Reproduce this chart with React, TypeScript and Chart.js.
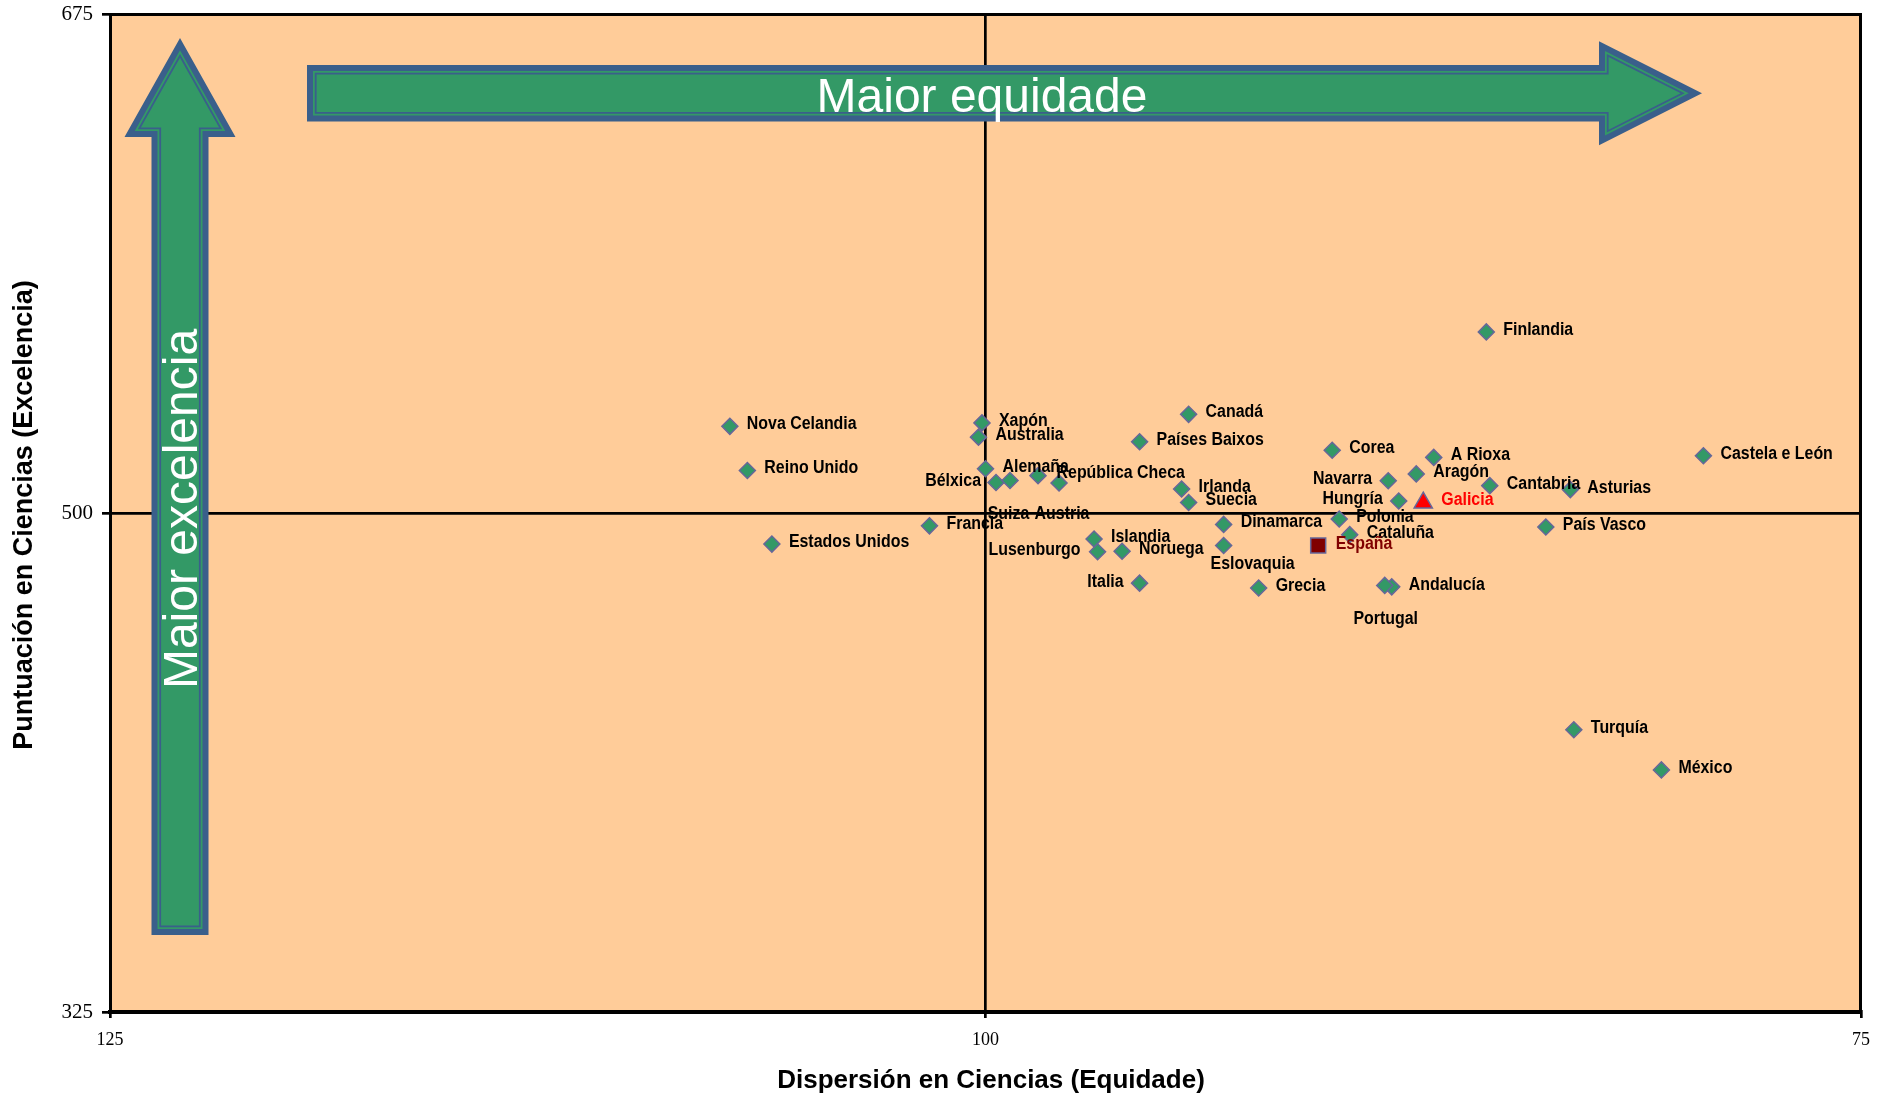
import React, { useEffect, useRef } from "react";
import { Chart, registerables } from "chart.js";

Chart.register(...registerables);

// ---------------- DATA ----------------
const countryNames = [
  "Nova Celandia", "Reino Unido", "Estados Unidos", "Francia", "Xapón", "Australia",
  "Alemaña", "Bélxica", "Suiza", "República Checa", "Austria", "Canadá",
  "Países Baixos", "Irlanda", "Suecia", "Islandia", "Lusenburgo", "Noruega",
  "Italia", "Dinamarca", "Eslovaquia", "Grecia", "Corea", "Polonia",
  "Hungría", "Portugal", "Finlandia", "Turquía", "México",
];
const countryDispersion = [
  107.3, 106.8, 106.1, 101.6, 100.1, 100.2,
  100.0, 99.7, 99.3, 98.5, 97.9, 94.2,
  95.6, 94.4, 94.2, 96.9, 96.8, 96.1,
  95.6, 93.2, 93.2, 92.2, 90.1, 89.9,
  88.2, 88.6, 85.7, 83.2, 80.7,
];
const countryScore = [
  530.4, 514.9, 489.1, 495.5, 531.6, 526.6,
  515.5, 510.7, 511.4, 513.1, 510.5, 534.6,
  525.0, 508.4, 503.7, 490.9, 486.4, 486.6,
  475.4, 496.0, 488.6, 473.7, 522.0, 497.9,
  504.2, 474.6, 563.5, 424.0, 409.9,
];

const regionNames = [
  "Cataluña", "Navarra", "Aragón", "A Rioxa", "Cantabria",
  "Asturias", "Castela e León", "País Vasco", "Andalucía",
];
const regionDispersion = [89.6, 88.5, 87.7, 87.2, 85.6, 83.3, 79.5, 84.0, 88.4];
const regionScore = [492.4, 511.3, 513.7, 519.5, 509.6, 508.2, 520.1, 495.1, 474.1];

const spainNames = ["España"];
const spainDispersion = [90.5];
const spainScore = [488.6];

const galiciaNames = ["Galicia"];
const galiciaDispersion = [87.5];
const galiciaScore = [503.6];

const xTickValues = [125, 100, 75];
const yTickValues = [325, 500, 675];
const xCross = 100;
const yCross = 500;

const xTitle = "Dispersión en Ciencias (Equidade)";
const yTitle = "Puntuación en Ciencias (Excelencia)";
const hArrowText = "Maior equidade";
const vArrowText = "Maior excelencia";

// ---------------- STYLE / LABEL PLACEMENT ----------------
const LABEL_FONT = 'bold 18px "Liberation Sans", Arial, sans-serif';
const LABEL_SCALE_X = 0.885;
type Placement = { dx: number; dy: number; align: CanvasTextAlign };
const defaultPlacement: Placement = { dx: 17, dy: -2, align: "left" };
const labelPlacement: Record<string, Partial<Placement>> = {
  "Bélxica": { dx: -15, dy: -1.5, align: "right" },
  "Suiza": { dx: -1.5, dy: 34, align: "center" },
  "Austria": { dx: 3, dy: 31, align: "center" },
  "República Checa": { dx: 18.5, dy: -2.7 },
  "Lusenburgo": { dx: -17, dy: -2, align: "right" },
  "Italia": { dx: -16, dy: -1, align: "right" },
  "Navarra": { dx: -16, dy: -1.5, align: "right" },
  "Hungría": { dx: -16, dy: -1.5, align: "right" },
  "Eslovaquia": { dx: 29, dy: 19, align: "center" },
  "Portugal": { dx: 1, dy: 33.5, align: "center" },
  "Galicia": { dx: 18, dy: -3 },
  "España": { dx: 17.5, dy: -1 },
};

const GREEN = "#339966";
const BLUE = "#3A5F8B";
const MARKER_BORDER = "#666699";
const PLOT_BG = "#FFCC99";

function toPoints(xs: number[], ys: number[]) {
  return xs.map((x, i) => ({ x, y: ys[i] }));
}

// arrow polygon, local coords: s along arrow (0 = tail), t across; d = inset
function arrowPath(
  ctx: CanvasRenderingContext2D,
  map: (s: number, t: number) => [number, number],
  L: number, Lb: number, w: number, h: number, d: number
) {
  const H = L - Lb;
  const len = Math.sqrt(H * H + h * h);
  const hi = h - (d * (h + len)) / H;
  const tip = L - (d * len) / h;
  const pts: [number, number][] = [
    [d, -(w - d)], [Lb + d, -(w - d)], [Lb + d, -hi], [tip, 0],
    [Lb + d, hi], [Lb + d, w - d], [d, w - d],
  ];
  ctx.beginPath();
  pts.forEach(([s, t], i) => {
    const [x, y] = map(s, t);
    if (i === 0) ctx.moveTo(x, y); else ctx.lineTo(x, y);
  });
  ctx.closePath();
}

function drawArrow(
  ctx: CanvasRenderingContext2D,
  map: (s: number, t: number) => [number, number],
  L: number, Lb: number, w: number, h: number
) {
  const layers: [number, string][] = [[0, BLUE], [6, GREEN], [7.8, BLUE], [9.6, GREEN]];
  layers.forEach(([d, c]) => {
    arrowPath(ctx, map, L, Lb, w, h, d);
    ctx.fillStyle = c;
    ctx.fill();
  });
}

const decorPlugin = {
  id: "decor",
  beforeDraw(chart: any) {
    const { ctx, chartArea: a } = chart;
    ctx.save();
    ctx.fillStyle = PLOT_BG;
    ctx.fillRect(a.left, a.top, a.right - a.left, a.bottom - a.top);
    ctx.restore();
  },
  beforeDatasetsDraw(chart: any) {
    const { ctx, chartArea: a } = chart;
    ctx.save();
    // top / right frame
    ctx.strokeStyle = "#000";
    ctx.lineWidth = 3;
    ctx.beginPath();
    ctx.moveTo(a.left, a.top + 0.5);
    ctx.lineTo(a.right - 0.5, a.top + 0.5);
    ctx.lineTo(a.right - 0.5, a.bottom);
    ctx.stroke();

    // vertical arrow (tail at bottom)
    const vcx = a.left + 70;
    const vTail = a.top + 921;
    drawArrow(ctx, (s, t) => [vcx + t, vTail - s], 897, 798, 28.5, 55.5);
    // horizontal arrow
    const hcy = a.top + 79.3;
    const hTail = a.left + 197;
    drawArrow(ctx, (s, t) => [hTail + s, hcy + t], 1395, 1292, 28.3, 52);

    ctx.fillStyle = "#FFFFFF";
    ctx.font = '48px "Liberation Sans", Arial, sans-serif';
    ctx.textAlign = "center";
    ctx.textBaseline = "alphabetic";
    ctx.fillText(hArrowText, a.left + 872, a.top + 97.5);

    ctx.save();
    ctx.translate(vcx, a.top + 495);
    ctx.rotate(-Math.PI / 2);
    ctx.fillText(vArrowText, 0, 17);
    ctx.restore();

    // axis titles
    ctx.fillStyle = "#000";
    ctx.font = 'bold 26px "Liberation Sans", Arial, sans-serif';
    ctx.textBaseline = "middle";
    ctx.textAlign = "center";
    ctx.fillText(xTitle, 991, 1081);
    ctx.save();
    ctx.font = 'bold 27px "Liberation Sans", Arial, sans-serif';
    ctx.translate(25, 515);
    ctx.rotate(-Math.PI / 2);
    ctx.fillText(yTitle, 0, 0);
    ctx.restore();
    ctx.restore();
  },
  afterDatasetsDraw(chart: any) {
    const ctx: CanvasRenderingContext2D = chart.ctx;
    chart.data.datasets.forEach((ds: any, i: number) => {
      const meta = chart.getDatasetMeta(i);
      meta.data.forEach((el: any, j: number) => {
        const name: string = ds.names[j];
        const p = { ...defaultPlacement, ...(labelPlacement[name] || {}) };
        ctx.save();
        ctx.font = LABEL_FONT;
        ctx.fillStyle = ds.labelColor;
        ctx.textBaseline = "middle";
        ctx.textAlign = p.align;
        ctx.translate(el.x + p.dx, el.y + p.dy);
        ctx.scale(LABEL_SCALE_X, 1);
        ctx.fillText(name, 0, 0);
        ctx.restore();
      });
    });
  },
};

export default function App() {
  const ref = useRef<HTMLCanvasElement>(null);
  useEffect(() => {
    document.body.style.margin = "0";
    const diamond = {
      pointStyle: "rectRot",
      pointRadius: 8,
      pointBackgroundColor: GREEN,
      pointBorderColor: MARKER_BORDER,
      pointBorderWidth: 1.5,
      showLine: false,
      labelColor: "#000000",
    };
    const chart = new Chart(ref.current as HTMLCanvasElement, {
      type: "scatter",
      data: {
        datasets: [
          { label: "Países", data: toPoints(countryDispersion, countryScore), names: countryNames, ...diamond } as any,
          { label: "Comunidades", data: toPoints(regionDispersion, regionScore), names: regionNames, ...diamond } as any,
          {
            label: "España", data: toPoints(spainDispersion, spainScore), names: spainNames,
            pointStyle: "rect", pointRadius: 10.6, pointBackgroundColor: "#800000",
            pointBorderColor: MARKER_BORDER, pointBorderWidth: 1.5, labelColor: "#800000",
          } as any,
          {
            label: "Galicia", data: toPoints(galiciaDispersion, galiciaScore), names: galiciaNames,
            pointStyle: "triangle", pointRadius: 10.5, pointBackgroundColor: "#FF0000",
            pointBorderColor: MARKER_BORDER, pointBorderWidth: 1.5, labelColor: "#FF0000",
          } as any,
        ],
      },
      options: {
        animation: false,
        responsive: false,
        devicePixelRatio: 1,
        layout: { padding: { top: 14, right: 28, bottom: 0, left: 0 } },
        plugins: {
          legend: { display: false },
          tooltip: { enabled: false },
        },
        scales: {
          x: {
            type: "linear",
            position: "bottom",
            reverse: true,
            min: Math.min(...xTickValues),
            max: Math.max(...xTickValues),
            afterFit: (s: any) => {
              s.height = 87;
              s.paddingLeft = 0;
              s.paddingRight = 0;
            },
            afterBuildTicks: (s: any) => {
              s.ticks = [...xTickValues].sort((p, q) => p - q).map((v) => ({ value: v }));
            },
            grid: {
              drawOnChartArea: true,
              color: (c: any) => (c.tick && c.tick.value === xCross ? "#000" : "rgba(0,0,0,0)"),
              tickColor: "#000",
              lineWidth: 2.7,
              tickWidth: 2.7,
              tickLength: 6,
            },
            border: { display: true, color: "#000", width: 4 },
            ticks: {
              font: { family: '"Liberation Serif", "Times New Roman", serif', size: 18 },
              color: "#000",
              padding: 11,
              maxRotation: 0,
              autoSkip: false,
            },
          },
          y: {
            type: "linear",
            position: "left",
            min: Math.min(...yTickValues),
            max: Math.max(...yTickValues),
            afterFit: (s: any) => {
              s.width = 110;
              s.paddingTop = 0;
              s.paddingBottom = 0;
            },
            afterBuildTicks: (s: any) => {
              s.ticks = [...yTickValues].sort((p, q) => p - q).map((v) => ({ value: v }));
            },
            grid: {
              drawOnChartArea: true,
              color: (c: any) => (c.tick && c.tick.value === yCross ? "#000" : "rgba(0,0,0,0)"),
              tickColor: "#000",
              lineWidth: 2.7,
              tickWidth: 2.7,
              tickLength: 8,
            },
            border: { display: true, color: "#000", width: 3 },
            ticks: {
              font: { family: '"Liberation Serif", "Times New Roman", serif', size: 21 },
              color: "#000",
              padding: 9,
              autoSkip: false,
            },
          },
        },
      } as any,
      plugins: [decorPlugin as any],
    });
    return () => chart.destroy();
  }, []);
  return (
    <canvas
      ref={ref}
      width={1889}
      height={1099}
      style={{ display: "block", width: "1889px", height: "1099px" }}
    />
  );
}
